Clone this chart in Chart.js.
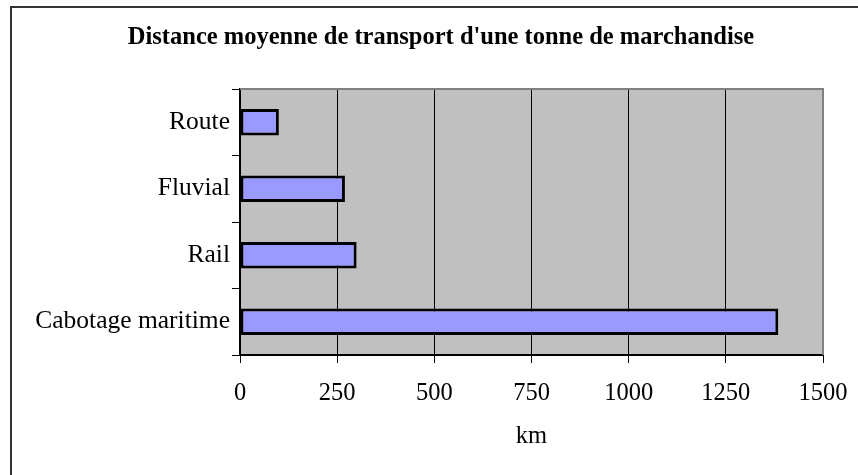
<!DOCTYPE html>
<html>
<head>
<meta charset="utf-8">
<script src="https://cdn.jsdelivr.net/npm/chart.js@4/dist/chart.umd.min.js"></script>
<style>
  html, body { margin: 0; padding: 0; background: #ffffff; }
  #wrap { width: 858px; height: 475px; position: relative; }
</style>
</head>
<body>
<div id="wrap"><canvas id="c" width="858" height="475"></canvas></div>
<script>
const chartTitle = "Distance moyenne de transport d'une tonne de marchandise";
const categories = ['Route', 'Fluvial', 'Rail', 'Cabotage maritime'];
const distances = [100, 270, 300, 1385];
const xTickMin = 0;
const xTickMax = 1500;
const xTickStep = 250;
const xAxisTitle = 'km';

const SERIF = '"Liberation Serif", "Times New Roman", serif';

const decor = {
  id: 'decor',
  beforeDraw(chart) {
    const ctx = chart.ctx, a = chart.chartArea;
    ctx.save();
    ctx.fillStyle = '#ffffff';
    ctx.fillRect(0, 0, chart.width, chart.height);
    ctx.fillStyle = '#c0c0c0';
    ctx.fillRect(a.left, a.top, a.right - a.left, a.bottom - a.top);
    ctx.restore();
  },
  afterDraw(chart) {
    const ctx = chart.ctx, a = chart.chartArea;
    ctx.save();
    ctx.strokeStyle = '#808080';
    ctx.lineWidth = 2;
    ctx.beginPath();
    ctx.moveTo(a.left, a.top);
    ctx.lineTo(a.right, a.top);
    ctx.lineTo(a.right, a.bottom);
    ctx.stroke();
    ctx.strokeStyle = '#333333';
    ctx.lineWidth = 2;
    ctx.beginPath();
    ctx.moveTo(11, chart.height);
    ctx.lineTo(11, 7);
    ctx.lineTo(chart.width, 7);
    ctx.stroke();
    ctx.restore();
  }
};

new Chart(document.getElementById('c'), {
  type: 'bar',
  data: {
    labels: categories,
    datasets: [{
      data: distances,
      backgroundColor: '#9999ff',
      borderColor: '#000000',
      borderWidth: 3,
      borderSkipped: false,
      categoryPercentage: 1.0,
      barPercentage: 0.4
    }]
  },
  options: {
    indexAxis: 'y',
    responsive: false,
    animation: false,
    devicePixelRatio: 1,
    layout: { padding: { left: 24, right: 0, top: 0, bottom: 0 } },
    plugins: {
      legend: { display: false },
      tooltip: { enabled: false },
      title: {
        display: true,
        text: chartTitle,
        color: '#000000',
        font: { family: SERIF, size: 24.5, weight: 'bold' },
        padding: { top: 23, bottom: 36.6 }
      }
    },
    scales: {
      x: {
        min: xTickMin,
        max: xTickMax,
        ticks: {
          stepSize: xTickStep,
          color: '#000000',
          font: { family: SERIF, size: 24.5 },
          padding: 16,
          maxRotation: 0,
          callback: (v) => String(v)
        },
        grid: {
          color: '#000000',
          lineWidth: 1,
          drawTicks: true,
          tickLength: 8,
          tickColor: '#000000'
        },
        border: { display: true, color: '#000000', width: 2 },
        title: {
          display: true,
          text: xAxisTitle,
          color: '#000000',
          font: { family: SERIF, size: 24.5 },
          padding: { top: 0, bottom: 24 }
        },
        afterFit(scale) { scale.height = 120; scale.paddingRight = 35; }
      },
      y: {
        ticks: {
          color: '#000000',
          font: { family: SERIF, size: 25.5 },
          padding: 2
        },
        grid: {
          offset: true,
          drawOnChartArea: false,
          drawTicks: true,
          tickLength: 8,
          color: '#000000',
          tickColor: '#000000'
        },
        border: { display: true, color: '#000000', width: 2 },
        afterFit(scale) { scale.width = 216; }
      }
    }
  },
  plugins: [decor]
});
</script>
</body>
</html>
